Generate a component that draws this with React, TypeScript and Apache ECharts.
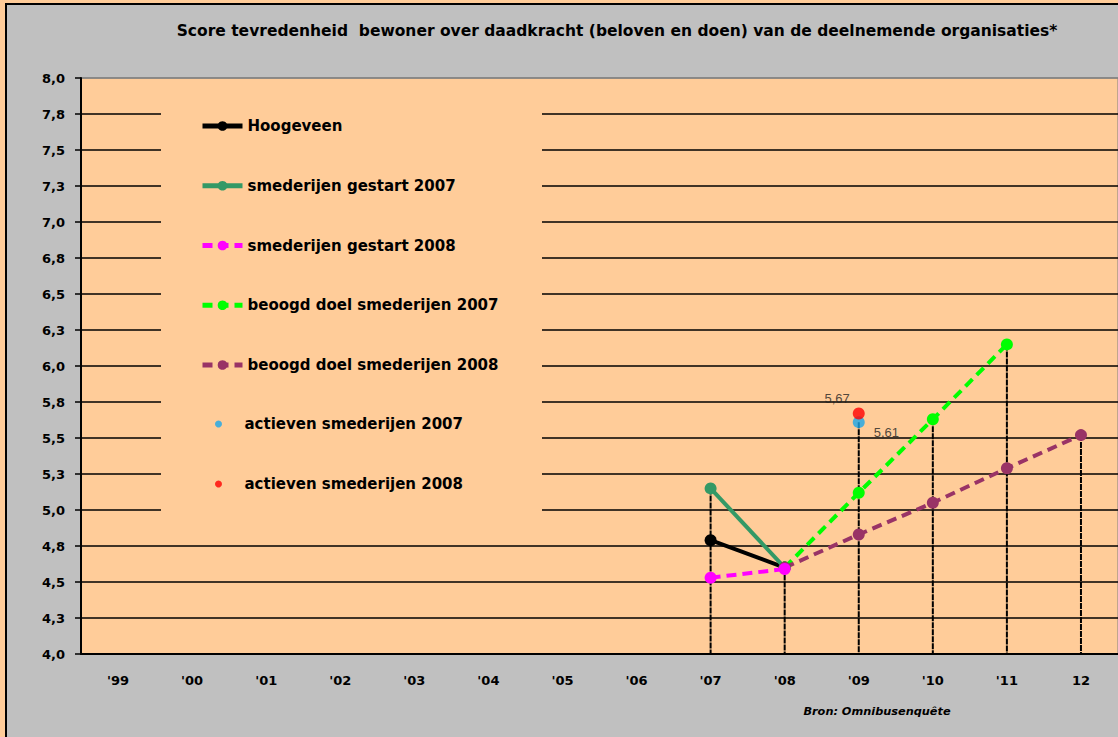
import React, { useEffect, useRef } from "react";
import * as echarts from "echarts";

const categories = ["'99", "'00", "'01", "'02", "'03", "'04", "'05", "'06", "'07", "'08", "'09", "'10", "'11", "12"];
const yTicks = { min: 4, max: 8, interval: 0.25 };

const hoogeveen = [null, null, null, null, null, null, null, null, 4.79, 4.6, null, null, null, null];
const gestart2007 = [null, null, null, null, null, null, null, null, 5.15, 4.6, null, null, null, null];
const gestart2008 = [null, null, null, null, null, null, null, null, 4.53, 4.59, null, null, null, null];
const doel2007 = [null, null, null, null, null, null, null, null, null, 4.6, 5.12, 5.63, 6.15, null];
const doel2008 = [null, null, null, null, null, null, null, null, null, 4.6, 4.83, 5.05, 5.29, 5.52];
const actieven2007 = [null, null, null, null, null, null, null, null, null, null, 5.61, null, null, null];
const actieven2008 = [null, null, null, null, null, null, null, null, null, null, 5.67, null, null, null];

const names = [
  "Hoogeveen",
  "smederijen gestart 2007",
  "smederijen gestart 2008",
  "beoogd doel smederijen 2007",
  "beoogd doel smederijen 2008",
  "actieven smederijen 2007",
  "actieven smederijen 2008",
];

const titleText = "Score tevredenheid  bewoner over daadkracht (beloven en doen) van de deelnemende organisaties*";
const sourceText = "Bron: Omnibusenquête";

const FONT = "DejaVu Sans";

export default function App() {
  const ref = useRef<HTMLDivElement>(null);
  useEffect(() => {
    document.body.style.margin = "0";
    if (!ref.current) return;
    const chart = echarts.init(ref.current, null, { renderer: "svg" });

    const allLines = [hoogeveen, gestart2007, gestart2008, doel2007, doel2008, actieven2007];
    const dropData: number[][] = [];
    categories.forEach((_, i) => {
      const vals = allLines.map((a) => a[i]).filter((v) => v != null) as number[];
      if (vals.length) dropData.push([i, Math.max(...vals)]);
    });

    const lineSeries = (name: string, data: (number | null)[], color: string, dashed: boolean, z = 2) => ({
      name,
      type: "line",
      data,
      z,
      symbol: "circle",
      symbolSize: 12,
      connectNulls: false,
      lineStyle: { color, width: 4, type: dashed ? [10, 6] : "solid", cap: "butt" },
      itemStyle: { color },
    });

    const splitColors = Array.from({ length: 17 }, (_, i) => (i === 16 ? "#808080" : "#000000"));
    const commaFmt = (v: number) => v.toFixed(2).replace(".", ",");

    const legendText = { fontFamily: FONT, fontWeight: "bold", fontSize: 15, lineHeight: 16, color: "#000" };

    const option: any = {
      animation: false,
      grid: {
        left: 81,
        top: 78,
        width: 1040,
        height: 576,
        show: true,
        backgroundColor: "#FFCC99",
        borderColor: "#808080",
        borderWidth: 1,
      },
      graphic: [
        {
          type: "rect",
          z: 1,
          shape: { x: 161, y: 96, width: 381, height: 432 },
          style: { fill: "#FFCC99" },
        },
        {
          type: "text",
          x: 617,
          y: 31,
          style: {
            text: titleText,
            align: "center",
            verticalAlign: "middle",
            fill: "#000",
            font: `bold 15.5px "${FONT}"`,
          },
        },
        {
          type: "text",
          x: 877,
          y: 711,
          style: {
            text: sourceText,
            align: "center",
            verticalAlign: "middle",
            fill: "#000",
            font: `italic bold 11.3px "${FONT}"`,
          },
        },
      ],
      legend: [
        {
          orient: "vertical",
          left: 200,
          top: 118,
          padding: 0,
          itemWidth: 40,
          itemHeight: 12,
          itemGap: 43.75,
          selectedMode: false,
          lineStyle: { width: 5 },
          textStyle: legendText,
          data: names.slice(0, 5),
        },
        {
          orient: "vertical",
          left: 215,
          top: 416,
          padding: 0,
          itemWidth: 42,
          itemHeight: 7,
          itemGap: 44,
          selectedMode: false,
          textStyle: legendText,
          data: names.slice(5),
        },
      ],
      xAxis: {
        type: "category",
        data: categories,
        boundaryGap: true,
        axisTick: { show: false },
        axisLine: { show: true, lineStyle: { color: "#000", width: 2 } },
        axisLabel: { fontFamily: FONT, fontWeight: "bold", fontSize: 13, color: "#000", margin: 20, interval: 0 },
        splitLine: { show: false },
      },
      yAxis: {
        type: "value",
        min: yTicks.min,
        max: yTicks.max,
        interval: yTicks.interval,
        axisLine: { show: true, lineStyle: { color: "#000", width: 2 } },
        axisTick: { show: true, length: 6, lineStyle: { color: "#000", width: 1.5 } },
        axisLabel: {
          fontFamily: FONT,
          fontWeight: "bold",
          fontSize: 13,
          color: "#000",
          margin: 16,
          formatter: (v: number) => v.toFixed(1).replace(".", ","),
        },
        splitLine: { show: true, lineStyle: { color: splitColors, width: 1.5 } },
      },
      series: [
        {
          type: "custom",
          name: "drop",
          z: 1,
          data: dropData,
          renderItem: (params: any, api: any) => {
            const p1 = api.coord([api.value(0), api.value(1)]);
            const p2 = api.coord([api.value(0), yTicks.min]);
            return {
              type: "line",
              shape: { x1: p1[0], y1: p1[1], x2: p2[0], y2: p2[1] },
              style: { stroke: "#000", lineWidth: 2, lineDash: [6, 1] },
            };
          },
        },
        lineSeries(names[0], hoogeveen, "#000000", false),
        lineSeries(names[1], gestart2007, "#339966", false),
        lineSeries(names[3], doel2007, "#00FF00", true),
        lineSeries(names[4], doel2008, "#993366", true),
        lineSeries(names[2], gestart2008, "#FF00FF", true, 3),
        {
          name: names[5],
          type: "scatter",
          data: actieven2007,
          symbol: "circle",
          symbolSize: 12,
          z: 4,
          itemStyle: { color: "#1AA6E8" },
          label: {
            show: true,
            position: "right",
            offset: [4, 10],
            formatter: (p: any) => commaFmt(p.value),
            fontFamily: "Liberation Sans",
            fontSize: 13,
            color: "#222",
          },
        },
        {
          name: names[6],
          type: "scatter",
          data: actieven2008,
          symbol: "circle",
          symbolSize: 12,
          z: 5,
          itemStyle: { color: "#FF0000" },
          label: {
            show: true,
            position: "left",
            offset: [2, -15],
            formatter: (p: any) => commaFmt(p.value),
            fontFamily: "Liberation Sans",
            fontSize: 13,
            color: "#222",
          },
        },
      ],
    };
    chart.setOption(option);
    return () => chart.dispose();
  }, []);

  return (
    <div style={{ position: "relative", width: 1118, height: 737, background: "#FFCC99", overflow: "hidden" }}>
      <div
        style={{
          position: "absolute",
          left: 5,
          top: 3,
          width: 1130,
          height: 750,
          background: "#C0C0C0",
          border: "2px solid #000",
          boxSizing: "border-box",
        }}
      />
      <div ref={ref} style={{ position: "absolute", left: 0, top: 0, width: 1118, height: 737 }} />
    </div>
  );
}
